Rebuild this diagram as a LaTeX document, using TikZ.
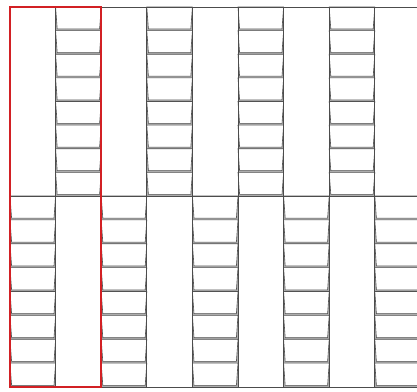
\documentclass[tikz,border=0pt]{standalone}
\definecolor{frred}{RGB}{210,32,36}
\begin{document}
\begin{tikzpicture}[x=1pt,y=-1pt,
  frameline/.style={draw=black!70,line width=0.8pt},
  bevel/.style={fill=black!32},
  cellbox/.style={draw=black!68,line width=0.6pt,fill=white},
  redframe/.style={draw=frred,line width=2.2pt}]
\useasboundingbox (0,0) rectangle (417,391);
\begin{scope}
\clip (0,0) rectangle (417,391);
% top-half ladders
\foreach \c in {1,3,5,7}{
  \pgfmathsetmacro\xa{10+45.6*\c}
  \pgfmathsetmacro\xb{\xa+45.6}
  \fill[bevel] (\xa,7) rectangle (\xb,196);
  \foreach \i in {0,...,7}{
    \pgfmathsetmacro\ya{7+23.625*\i}
    \pgfmathsetmacro\yb{\ya+23.625-1.7}
    \path[cellbox] (\xa,\ya) -- (\xb,\ya) -- (\xb-1.6,\yb) -- (\xa+1.6,\yb) -- cycle;
  }
}
% bottom-half ladders
\foreach \c in {0,2,4,6,8}{
  \pgfmathsetmacro\xa{10+45.6*\c}
  \pgfmathsetmacro\xb{\xa+45.6}
  \fill[bevel] (\xa,196) rectangle (\xb,387);
  \foreach \i in {0,...,7}{
    \pgfmathsetmacro\ya{196+23.875*\i}
    \pgfmathsetmacro\yb{\ya+23.875-1.7}
    \path[cellbox] (\xa,\ya) -- (\xb,\ya) -- (\xb-1.6,\yb) -- (\xa+1.6,\yb) -- cycle;
  }
}
% frame lines
\draw[frameline] (10,7) -- (420,7);
\draw[frameline] (10,196) -- (420,196);
\draw[frameline] (10,387) -- (420,387);
\foreach \c in {0,...,8}{
  \draw[frameline] ({10+45.6*\c},7) -- ({10+45.6*\c},387);
}
\end{scope}
\draw[redframe] (10,7) rectangle (101.2,387);
\end{tikzpicture}
\end{document}
